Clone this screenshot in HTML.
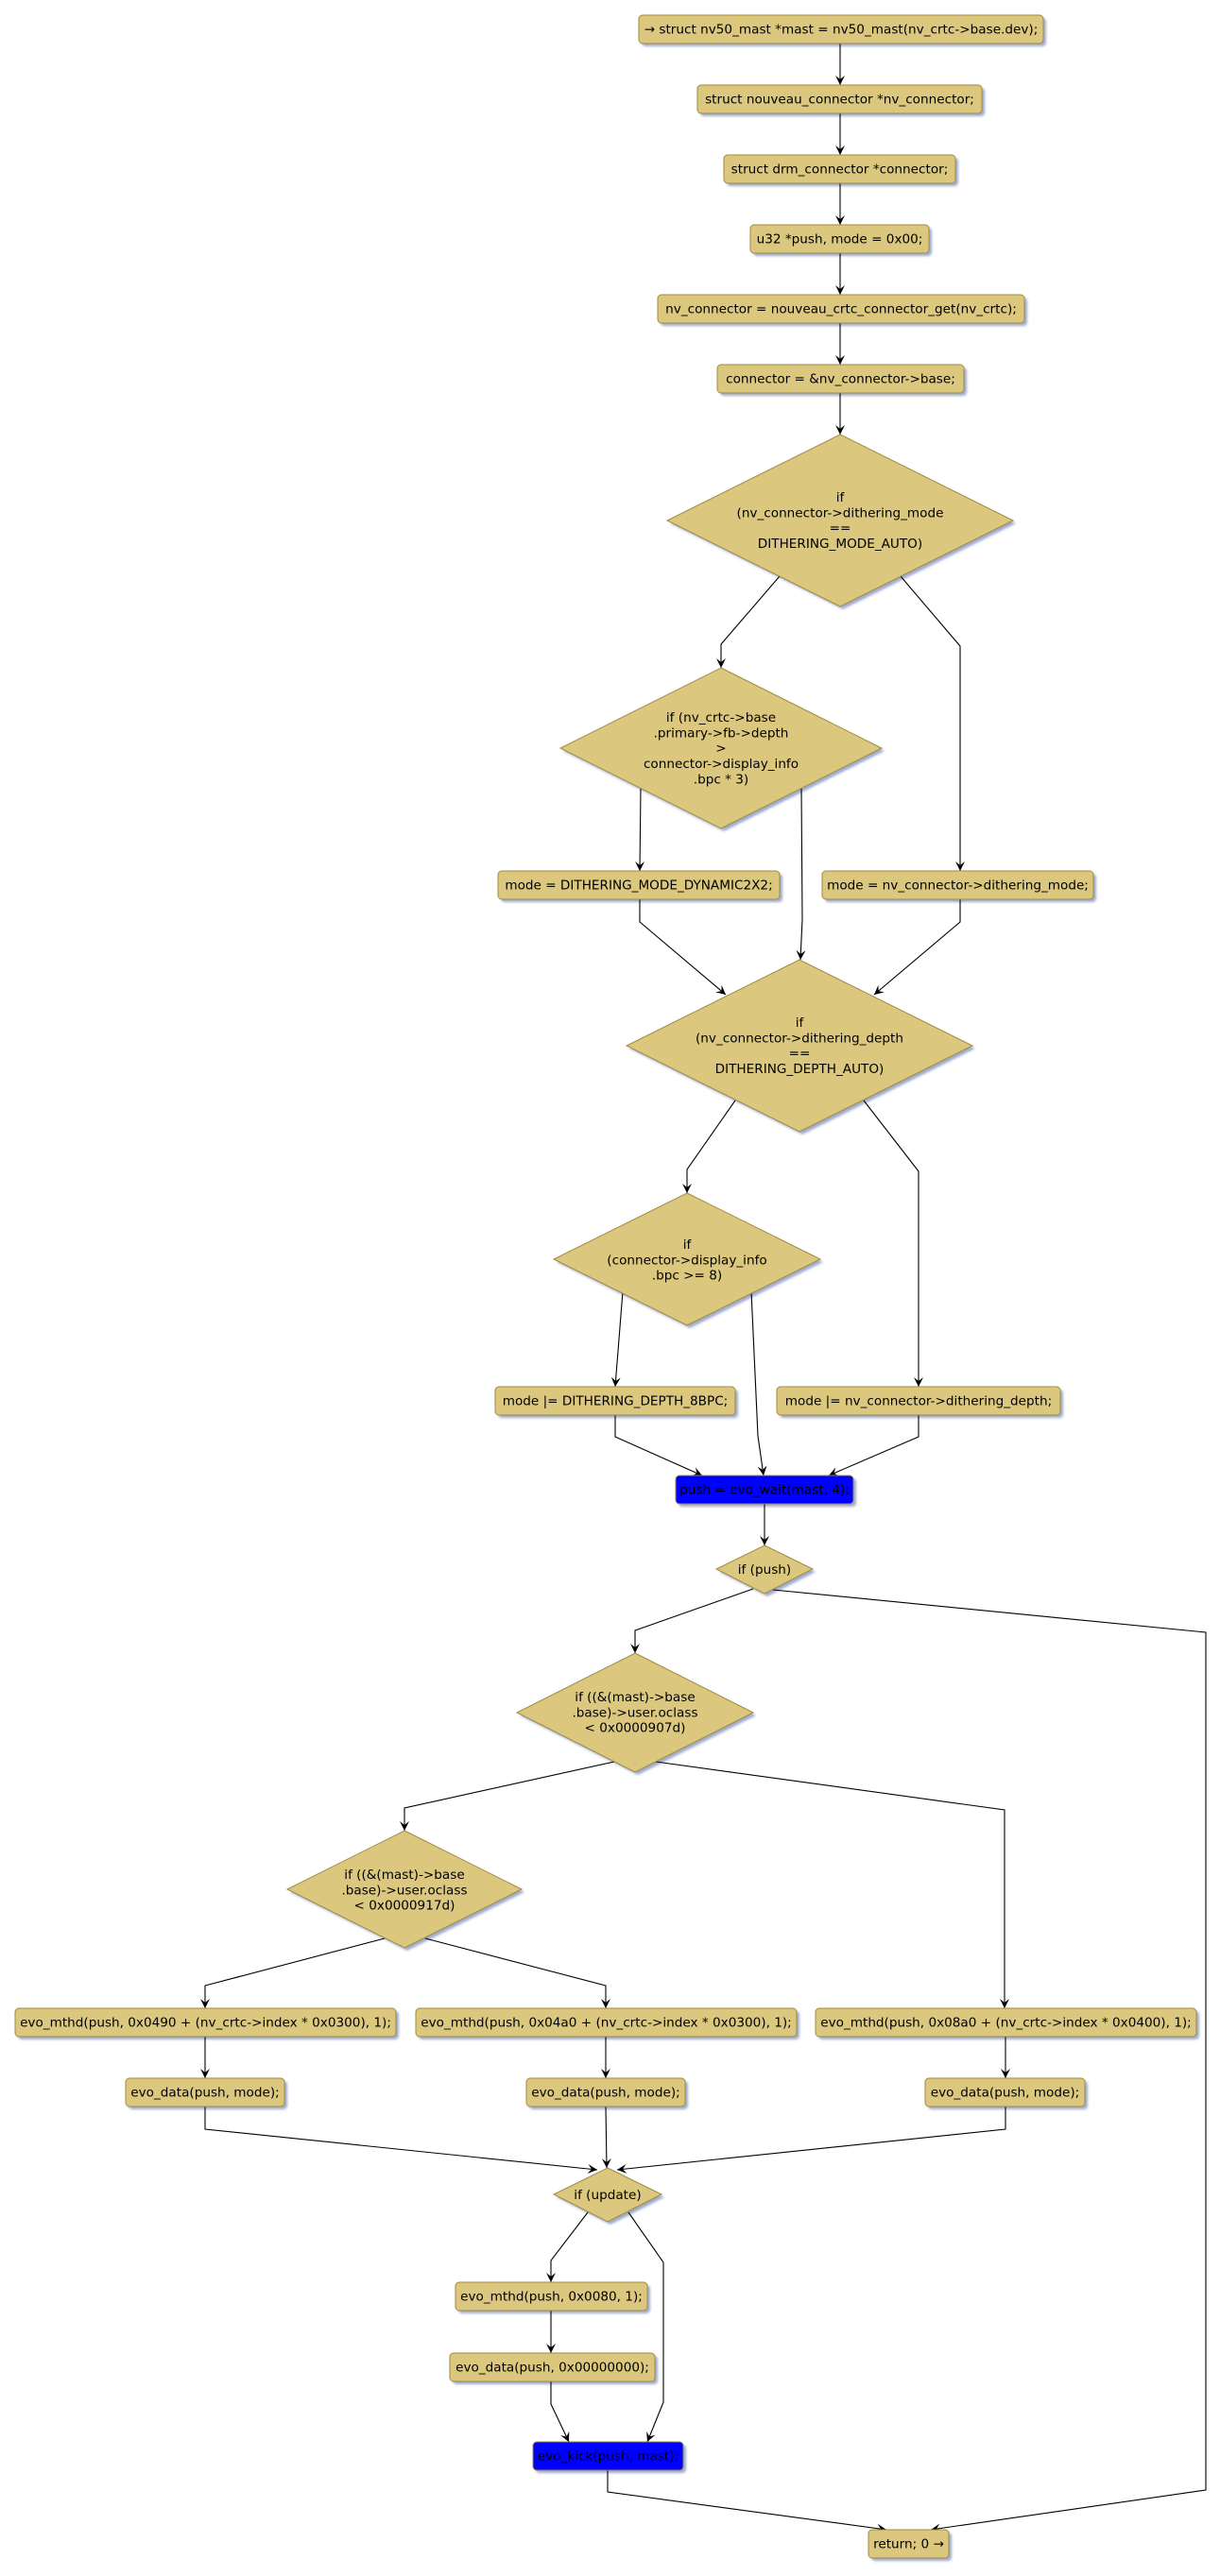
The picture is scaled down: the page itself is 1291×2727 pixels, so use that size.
<!DOCTYPE html>
<html>
<head>
<meta charset="utf-8">
<style>
html,body{margin:0;padding:0;background:#fff;}
svg{display:block;}
text{font-family:"DejaVu Sans","Liberation Sans",sans-serif;font-size:13.6px;fill:#000;}
</style>
</head>
<body>
<svg width="1291" height="2727" viewBox="0 0 1291 2727" xmlns="http://www.w3.org/2000/svg">
<defs>
<marker id="ah" markerUnits="userSpaceOnUse" viewBox="0 0 10 10" refX="10" refY="5" markerWidth="10" markerHeight="10" orient="auto">
<path d="M0,0 L10,5 L0,10 L4,5 Z" fill="#000"/>
</marker>
<filter id="blur" x="-5%" y="-5%" width="110%" height="110%"><feGaussianBlur stdDeviation="1.2"/></filter>
</defs>

<!-- shadows -->
<g transform="translate(3,3)" fill="#9eacd0" filter="url(#blur)">
<rect x="676" y="16" width="428" height="30" rx="4"/>
<rect x="738" y="90" width="301" height="30" rx="4"/>
<rect x="766" y="164" width="245" height="30" rx="4"/>
<rect x="794" y="238" width="189" height="30" rx="4"/>
<rect x="696" y="312" width="388" height="30" rx="4"/>
<rect x="759" y="386" width="261" height="30" rx="4"/>
<polygon points="889,460 1072,551 889,642 706,551"/>
<polygon points="763,707 933,792 763,877 593,792"/>
<rect x="527" y="922" width="298" height="30" rx="4"/>
<rect x="870" y="922" width="287" height="30" rx="4"/>
<polygon points="846,1016 1029,1107 846,1198 663,1107"/>
<polygon points="727,1263 868,1333 727,1403 586,1333"/>
<rect x="524" y="1468" width="254" height="30" rx="4"/>
<rect x="822" y="1468" width="300" height="30" rx="4"/>
<rect x="715" y="1562" width="188" height="30" rx="4"/>
<polygon points="809,1636 860,1661 809,1687 758,1661"/>
<polygon points="672,1750 797,1813 672,1876 547,1813"/>
<polygon points="428,1938 552,2000 428,2062 304,2000"/>
<rect x="16" y="2126" width="403" height="30" rx="4"/>
<rect x="440" y="2126" width="403" height="30" rx="4"/>
<rect x="863" y="2126" width="403" height="30" rx="4"/>
<rect x="133" y="2200" width="168" height="30" rx="4"/>
<rect x="557" y="2200" width="168" height="30" rx="4"/>
<rect x="979" y="2200" width="169" height="30" rx="4"/>
<polygon points="643,2295 700,2323 643,2352 586,2323"/>
<rect x="482" y="2416" width="203" height="30" rx="4"/>
<rect x="476" y="2491" width="217" height="30" rx="4"/>
<rect x="564" y="2585" width="159" height="30" rx="4"/>
<rect x="919" y="2678" width="85" height="30" rx="4"/>
</g>

<!-- connectors -->
<g fill="none" stroke="#000" stroke-width="1.1" marker-end="url(#ah)">
<polyline points="889,46 889,90"/>
<polyline points="889,120 889,164"/>
<polyline points="889,194 889,238"/>
<polyline points="889,268 889,312"/>
<polyline points="889,342 889,386"/>
<polyline points="889,416 889,460"/>
<polyline points="825,610 763,682 763,707"/>
<polyline points="953,610 1016,684 1016,922"/>
<polyline points="678,835 677,922"/>
<polyline points="848,835 849,973 847,1016"/>
<polyline points="677,952 677,976 768,1053"/>
<polyline points="1016,952 1016,976 925,1053"/>
<polyline points="778,1165 727,1238 727,1263"/>
<polyline points="914,1165 972,1240 972,1468"/>
<polyline points="659,1367 651,1468"/>
<polyline points="795,1367 802,1520 808,1562"/>
<polyline points="651,1498 651,1521 743,1562"/>
<polyline points="972,1498 972,1521 877,1562"/>
<polyline points="809,1592 809,1636"/>
<polyline points="797,1682 672,1726 672,1750"/>
<polyline points="818,1683 1276,1728 1276,2636 985,2678"/>
<polyline points="650,1865 428,1914 428,1938"/>
<polyline points="694,1865 1063,1916 1063,2126"/>
<polyline points="407,2052 217,2102 217,2126"/>
<polyline points="450,2052 641,2102 641,2126"/>
<polyline points="217,2156 217,2200"/>
<polyline points="641,2156 641,2200"/>
<polyline points="1064,2156 1064,2200"/>
<polyline points="217,2230 217,2254 632,2297"/>
<polyline points="641,2230 642,2295"/>
<polyline points="1064,2230 1064,2254 653,2297"/>
<polyline points="622,2342 583,2393 583,2416"/>
<polyline points="665,2342 702,2395 702,2543 685,2585"/>
<polyline points="583,2446 583,2491"/>
<polyline points="583,2521 583,2545 602,2585"/>
<polyline points="643,2615 643,2638 938,2678"/>
</g>

<!-- shapes -->
<g fill="#dbc87e" stroke="#a08a3e" stroke-width="1">
<rect x="676" y="16" width="428" height="30" rx="4"/>
<rect x="738" y="90" width="301" height="30" rx="4"/>
<rect x="766" y="164" width="245" height="30" rx="4"/>
<rect x="794" y="238" width="189" height="30" rx="4"/>
<rect x="696" y="312" width="388" height="30" rx="4"/>
<rect x="759" y="386" width="261" height="30" rx="4"/>
<polygon points="889,460 1072,551 889,642 706,551"/>
<polygon points="763,707 933,792 763,877 593,792"/>
<rect x="527" y="922" width="298" height="30" rx="4"/>
<rect x="870" y="922" width="287" height="30" rx="4"/>
<polygon points="846,1016 1029,1107 846,1198 663,1107"/>
<polygon points="727,1263 868,1333 727,1403 586,1333"/>
<rect x="524" y="1468" width="254" height="30" rx="4"/>
<rect x="822" y="1468" width="300" height="30" rx="4"/>
<rect x="715" y="1562" width="188" height="30" rx="4" fill="#0000ff"/>
<polygon points="809,1636 860,1661 809,1687 758,1661"/>
<polygon points="672,1750 797,1813 672,1876 547,1813"/>
<polygon points="428,1938 552,2000 428,2062 304,2000"/>
<rect x="16" y="2126" width="403" height="30" rx="4"/>
<rect x="440" y="2126" width="403" height="30" rx="4"/>
<rect x="863" y="2126" width="403" height="30" rx="4"/>
<rect x="133" y="2200" width="168" height="30" rx="4"/>
<rect x="557" y="2200" width="168" height="30" rx="4"/>
<rect x="979" y="2200" width="169" height="30" rx="4"/>
<polygon points="643,2295 700,2323 643,2352 586,2323"/>
<rect x="482" y="2416" width="203" height="30" rx="4"/>
<rect x="476" y="2491" width="217" height="30" rx="4"/>
<rect x="564" y="2585" width="159" height="30" rx="4" fill="#0000ff"/>
<rect x="919" y="2678" width="85" height="30" rx="4"/>
</g>

<!-- text -->
<g text-anchor="middle">
<text x="890" y="35.5">→ struct nv50_mast *mast = nv50_mast(nv_crtc-&gt;base.dev);</text>
<text x="888.5" y="109.5">struct nouveau_connector *nv_connector;</text>
<text x="888.5" y="183.5">struct drm_connector *connector;</text>
<text x="888.5" y="257.5">u32 *push, mode = 0x00;</text>
<text x="890" y="331.5">nv_connector = nouveau_crtc_connector_get(nv_crtc);</text>
<text x="889.5" y="405.5">connector = &amp;nv_connector-&gt;base;</text>

<text x="889" y="531">if</text>
<text x="889" y="547.3">(nv_connector-&gt;dithering_mode</text>
<text x="889" y="563.6">==</text>
<text x="889" y="580">DITHERING_MODE_AUTO)</text>

<text x="763" y="764">if (nv_crtc-&gt;base</text>
<text x="763" y="780.3">.primary-&gt;fb-&gt;depth</text>
<text x="763" y="796.6">&gt;</text>
<text x="763" y="813">connector-&gt;display_info</text>
<text x="763" y="829.3">.bpc * 3)</text>

<text x="676" y="941.5">mode = DITHERING_MODE_DYNAMIC2X2;</text>
<text x="1013.5" y="941.5">mode = nv_connector-&gt;dithering_mode;</text>

<text x="846" y="1087">if</text>
<text x="846" y="1103.3">(nv_connector-&gt;dithering_depth</text>
<text x="846" y="1119.6">==</text>
<text x="846" y="1136">DITHERING_DEPTH_AUTO)</text>

<text x="727" y="1322">if</text>
<text x="727" y="1338.3">(connector-&gt;display_info</text>
<text x="727" y="1354.6">.bpc &gt;= 8)</text>

<text x="651" y="1487.5">mode |= DITHERING_DEPTH_8BPC;</text>
<text x="972" y="1487.5">mode |= nv_connector-&gt;dithering_depth;</text>

<text x="809" y="1581.5">push = evo_wait(mast, 4);</text>
<text x="809" y="1666">if (push)</text>

<text x="672" y="1801">if ((&amp;(mast)-&gt;base</text>
<text x="672" y="1817.3">.base)-&gt;user.oclass</text>
<text x="672" y="1833.6">&lt; 0x0000907d)</text>

<text x="428" y="1989">if ((&amp;(mast)-&gt;base</text>
<text x="428" y="2005.3">.base)-&gt;user.oclass</text>
<text x="428" y="2021.6">&lt; 0x0000917d)</text>

<text x="217.5" y="2145.5">evo_mthd(push, 0x0490 + (nv_crtc-&gt;index * 0x0300), 1);</text>
<text x="641.5" y="2145.5">evo_mthd(push, 0x04a0 + (nv_crtc-&gt;index * 0x0300), 1);</text>
<text x="1064.5" y="2145.5">evo_mthd(push, 0x08a0 + (nv_crtc-&gt;index * 0x0400), 1);</text>

<text x="217" y="2219.5">evo_data(push, mode);</text>
<text x="641" y="2219.5">evo_data(push, mode);</text>
<text x="1063.5" y="2219.5">evo_data(push, mode);</text>

<text x="643" y="2328">if (update)</text>

<text x="583.5" y="2435.5">evo_mthd(push, 0x0080, 1);</text>
<text x="584.5" y="2510.5">evo_data(push, 0x00000000);</text>
<text x="643.5" y="2604.5">evo_kick(push, mast);</text>
<text x="961.5" y="2697.5">return; 0 →</text>
</g>
</svg>
</body>
</html>
